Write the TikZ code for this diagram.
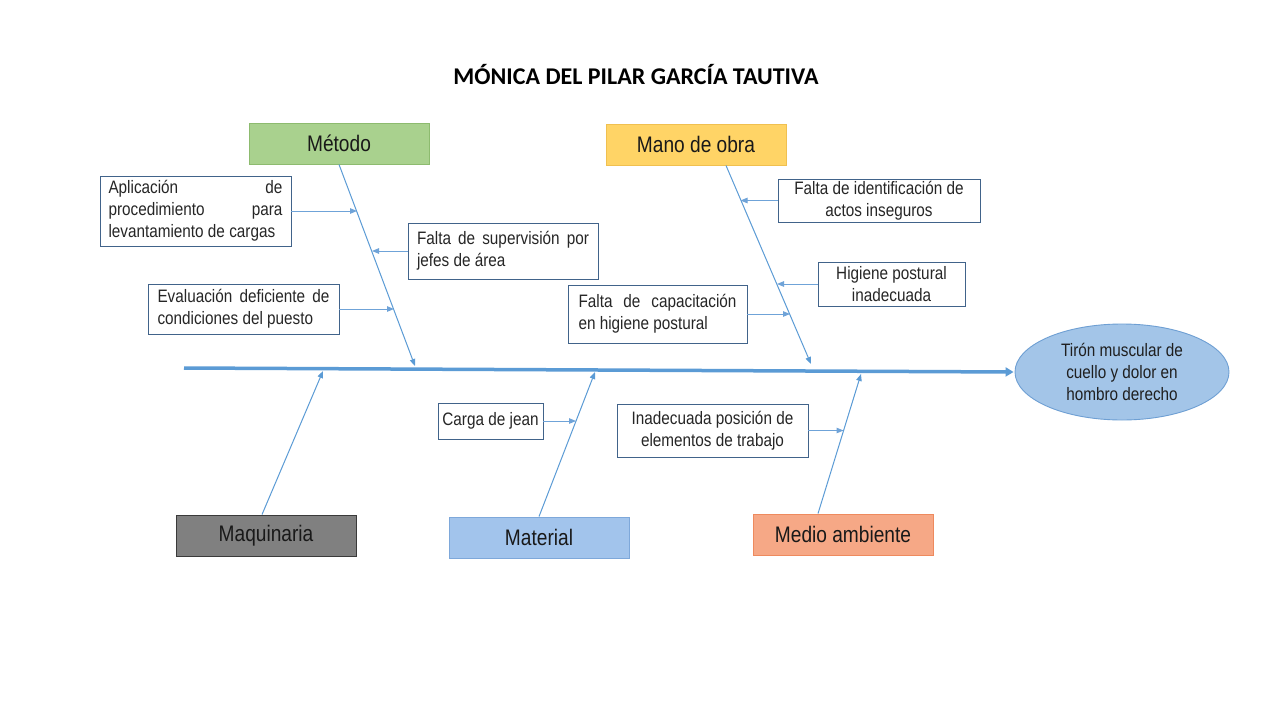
\documentclass[tikz,border=0pt]{standalone}
\usepackage{fontspec}
\setmainfont{Liberation Sans}
\newfontfamily\narrow[FakeStretch=0.85]{Liberation Sans}
\newfontfamily\titlefont{Carlito}
\usetikzlibrary{arrows.meta,shapes.geometric}
\hyphenpenalty=10000
\exhyphenpenalty=10000
\definecolor{bonecol}{HTML}{5B9BD5}
\definecolor{subcol}{HTML}{6FA3D8}
\definecolor{causeborder}{HTML}{41638A}
\definecolor{greenfill}{HTML}{A9D18E}
\definecolor{greenborder}{HTML}{8DBB6F}
\definecolor{goldfill}{HTML}{FFD466}
\definecolor{goldborder}{HTML}{F0C050}
\definecolor{grayfill}{HTML}{808080}
\definecolor{grayborder}{HTML}{3A3A3A}
\definecolor{bluefill}{HTML}{A2C4EC}
\definecolor{blueborder}{HTML}{7EA8DA}
\definecolor{salmonfill}{HTML}{F6A886}
\definecolor{salmonborder}{HTML}{EE8A5E}
\definecolor{ellfill}{HTML}{A3C5E8}
\definecolor{ellborder}{HTML}{6E9FD3}
\tikzset{
  cause/.style={draw=causeborder, line width=0.9pt, fill=white, inner sep=0pt,
    font=\narrow\fontsize{18}{22}\selectfont, text=black!85},
  catbox/.style={draw, line width=0.9pt, inner sep=0pt, minimum width=180, minimum height=41,
    font=\narrow\fontsize{22.5}{26}\selectfont, text=black!90},
  bone/.style={draw=bonecol, line width=1pt, -{Triangle[length=7pt,width=5.5pt]}},
  subarrow/.style={draw=subcol, line width=1pt, -{Triangle[length=7pt,width=5.5pt]}},
  spine/.style={draw=bonecol, line width=3.5pt, -{Triangle[length=8pt,width=9pt]}}
}
\begin{document}
\begin{tikzpicture}[x=1pt,y=-1pt]
\useasboundingbox[fill=white] (0,0) rectangle (1280,720);

% title
\node[font=\titlefont\bfseries\fontsize{24}{28}\selectfont] (title) at (636,75) {MÓNICA DEL PILAR GARCÍA TAUTIVA};

% category boxes
\node[catbox, fill=greenfill, draw=greenborder] (metodo) at (339,143.5) {Método};
\node[catbox, fill=goldfill, draw=goldborder] (mano) at (696,144.5) {Mano de obra};
\node[catbox, fill=grayfill, draw=grayborder] (maq) at (266,535.5) {Maquinaria};
\node[catbox, fill=bluefill, draw=blueborder] (mat) at (539,537.5) {Material};
\node[catbox, fill=salmonfill, draw=salmonborder] (medio) at (843,534.5) {Medio ambiente};

% effect
\node[ellipse, draw=ellborder, line width=0.9pt, fill=ellfill, inner sep=0pt,
  minimum width=214, minimum height=96, align=center,
  font=\narrow\fontsize{18}{22}\selectfont, text=black!88] (effect) at (1122,372)
  {Tirón muscular de\\cuello y dolor en\\hombro derecho};

% spine
\coordinate (spst) at (184,368);
\draw[spine] (spst) -- ([xshift=-1pt]effect.west);

% bone tips
\coordinate (tM) at (415,366);
\coordinate (tO) at (811,364);
\coordinate (tQ) at (323,371);
\coordinate (tA) at (595,372);
\coordinate (tE) at (861,374);

\draw[bone] (metodo.south) -- (tM);
\draw[bone] ([xshift=30pt]mano.south) -- (tO);
\draw[bone] ([xshift=-4pt]maq.north) -- (tQ);
\draw[bone] (mat.north) -- (tA);
\draw[bone] ([xshift=-25pt]medio.north) -- (tE);

% cause boxes
\node[cause, minimum width=191, minimum height=70, text width=174, align=justify] (aplic) at (195.5,211)
  {Aplicación de\linebreak procedimiento para\linebreak levantamiento de cargas};
\node[cause, minimum width=190, minimum height=56, text width=172, align=justify] (superv) at (503,251)
  {Falta de supervisión por\linebreak jefes de área};
\node[cause, minimum width=191, minimum height=50, text width=172, align=justify] (evalu) at (243.5,309)
  {Evaluación deficiente de\linebreak condiciones del puesto};
\node[cause, minimum width=202, minimum height=43, align=center] (ident) at (879,200.5)
  {Falta de identificación de\\actos inseguros};
\node[cause, minimum width=147, minimum height=44, align=center] (higiene) at (891.5,284)
  {Higiene postural\\inadecuada};
\node[cause, minimum width=179, minimum height=58, text width=158, align=justify] (capac) at (657.5,314)
  {Falta de capacitación\linebreak en higiene postural};
\node[cause, minimum width=105, minimum height=36, align=center] (carga) at (490.5,421)
  {Carga de jean};
\node[cause, minimum width=191, minimum height=53, align=center] (inadec) at (712.5,430.5)
  {Inadecuada posición de\\elementos de trabajo};

% sub-cause tips on bones
\coordinate (a1) at (357,211);
\coordinate (s1) at (372,251);
\coordinate (e1) at (394,309);
\coordinate (i1) at (740.5,200.5);
\coordinate (h1) at (777,284);
\coordinate (c1) at (790,314);
\coordinate (g1) at (576,421);
\coordinate (n1) at (843.5,430.5);

\draw[subarrow] (aplic.east) -- (a1);
\draw[subarrow] (superv.west) -- (s1);
\draw[subarrow] (evalu.east) -- (e1);
\draw[subarrow] (ident.west) -- (i1);
\draw[subarrow] (higiene.west) -- (h1);
\draw[subarrow] (capac.east) -- (c1);
\draw[subarrow] (carga.east) -- (g1);
\draw[subarrow] (inadec.east) -- (n1);
\end{tikzpicture}
\end{document}
